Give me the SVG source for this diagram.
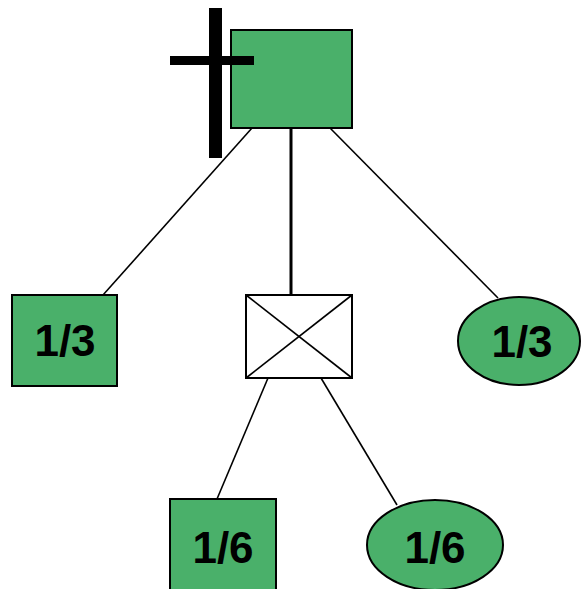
<svg xmlns="http://www.w3.org/2000/svg" width="581" height="589" viewBox="0 0 581 589">
<style>
.n{fill:#4ab06a;stroke:#000;stroke-width:2}
.c{stroke:#000;stroke-width:1.6;fill:none}
.t{font-family:"Liberation Sans",Arial,sans-serif;font-weight:bold;font-size:44px;fill:#000;text-anchor:middle}
</style>
<rect width="581" height="589" fill="#fff"/>
<g id="connectors">
<line class="c" x1="252" y1="128" x2="103" y2="295"/>
<line class="c" x1="291" y1="128" x2="291" y2="294" style="stroke-width:3"/>
<line class="c" x1="330" y1="128" x2="498" y2="298"/>
<line class="c" x1="268" y1="378" x2="217" y2="499"/>
<line class="c" x1="321" y1="378" x2="397" y2="505"/>
</g>
<g id="root">
<rect class="n" x="231" y="30" width="121" height="98"/>
</g>
<g id="cross">
<rect x="209" y="8" width="13" height="150" fill="#000"/>
<rect x="170" y="56" width="84" height="9" fill="#000"/>
</g>
<g id="chance">
<rect x="246" y="295" width="106" height="83" fill="#fff" stroke="#000" stroke-width="2"/>
<line class="c" x1="246" y1="295" x2="352" y2="378"/>
<line class="c" x1="352" y1="295" x2="246" y2="378"/>
</g>
<g id="leftSquare">
<rect class="n" x="12" y="295" width="105" height="91"/>
<text class="t" x="65" y="356">1/3</text>
</g>
<g id="rightEllipse">
<ellipse class="n" cx="519" cy="341" rx="61" ry="44"/>
<text class="t" x="522" y="357">1/3</text>
</g>
<g id="bottomSquare">
<rect class="n" x="170" y="499" width="106" height="95"/>
<text class="t" x="223" y="563">1/6</text>
</g>
<g id="bottomEllipse">
<ellipse class="n" cx="435" cy="545" rx="68" ry="45"/>
<text class="t" x="435" y="563">1/6</text>
</g>
</svg>
